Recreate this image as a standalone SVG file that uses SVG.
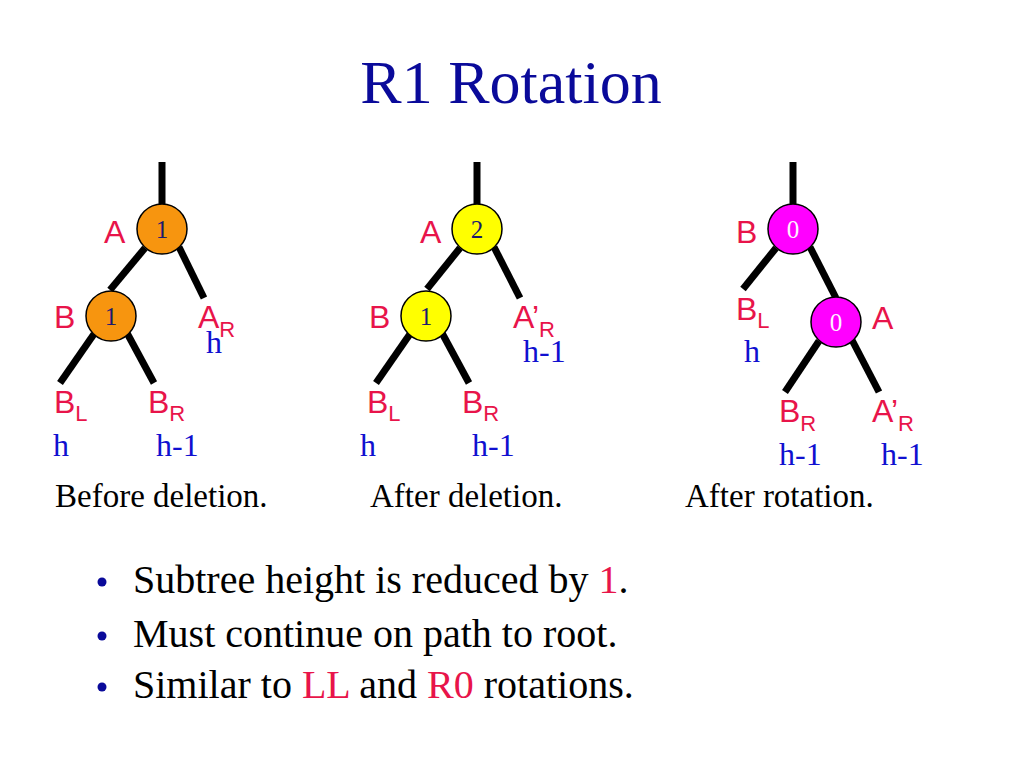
<svg xmlns="http://www.w3.org/2000/svg" width="1024" height="768" viewBox="0 0 1024 768">
<style>
.edge{stroke:#000;stroke-width:7;fill:none}
.nd{stroke:#000;stroke-width:1.5}
.or{fill:#f7950f}
.ye{fill:#ffff00}
.mg{fill:#ff00ff}
.num{font-family:"Liberation Serif",serif;font-size:25px;text-anchor:middle;fill:#1a1a6e}
.numw{font-family:"Liberation Serif",serif;font-size:25px;text-anchor:middle;fill:#fff0ff}
.lab{font-family:"Liberation Sans",Arial,sans-serif;font-size:32px;fill:#e8144a}
.sub{font-size:22px}
.ht{font-family:"Liberation Serif",serif;font-size:32px;fill:#1010d0}
.cap{font-family:"Liberation Serif",serif;font-size:33px;fill:#000}
.title{font-family:"Liberation Serif",serif;font-size:62px;fill:#0a0a9a;text-anchor:middle}
.bul{font-family:"Liberation Serif",serif;font-size:40px;fill:#000}
.red{fill:#e8144a}
</style>
<rect width="1024" height="768" fill="#fff"/>
<text class="title" x="511" y="103">R1 Rotation</text>

<g id="connectors">
<line class="edge" x1="162" y1="162" x2="162" y2="205"/>
<line class="edge" x1="145" y1="248" x2="110" y2="290"/>
<line class="edge" x1="179" y1="247" x2="204" y2="298"/>
<line class="edge" x1="94" y1="334" x2="60" y2="383"/>
<line class="edge" x1="127" y1="333" x2="154" y2="383"/>

<line class="edge" x1="477" y1="162" x2="477" y2="205"/>
<line class="edge" x1="460" y1="248" x2="427" y2="289"/>
<line class="edge" x1="494" y1="247" x2="520" y2="298"/>
<line class="edge" x1="410" y1="334" x2="376" y2="383"/>
<line class="edge" x1="442" y1="333" x2="469" y2="383"/>

<line class="edge" x1="793" y1="162" x2="793" y2="205"/>
<line class="edge" x1="776" y1="248" x2="743" y2="289"/>
<line class="edge" x1="810" y1="247" x2="836" y2="298"/>
<line class="edge" x1="819" y1="341" x2="785" y2="392"/>
<line class="edge" x1="852" y1="340" x2="879" y2="392"/>
</g>

<g id="t1-A"><circle class="nd or" cx="162" cy="229" r="25"/><text class="num" x="162" y="238">1</text><text class="lab" x="104" y="243">A</text></g>
<g id="t1-B"><circle class="nd or" cx="111" cy="316" r="25"/><text class="num" x="111" y="325">1</text><text class="lab" x="54" y="328">B</text></g>
<g id="t1-AR"><text class="lab" x="198" y="328">A<tspan class="sub" dy="9">R</tspan></text><text class="ht" x="206" y="353">h</text></g>
<g id="t1-BL"><text class="lab" x="54" y="413">B<tspan class="sub" dy="8">L</tspan></text><text class="ht" x="53" y="456">h</text></g>
<g id="t1-BR"><text class="lab" x="148" y="413">B<tspan class="sub" dy="8">R</tspan></text><text class="ht" x="156" y="456">h-1</text></g>
<text class="cap" x="55" y="507">Before deletion.</text>

<g id="t2-A"><circle class="nd ye" cx="477" cy="229" r="25"/><text class="num" x="477" y="238">2</text><text class="lab" x="420" y="243">A</text></g>
<g id="t2-B"><circle class="nd ye" cx="426" cy="316" r="25"/><text class="num" x="426" y="325">1</text><text class="lab" x="369" y="328">B</text></g>
<g id="t2-AR"><text class="lab" x="513" y="328">A’<tspan class="sub" dy="9">R</tspan></text><text class="ht" x="523" y="362">h-1</text></g>
<g id="t2-BL"><text class="lab" x="367" y="413">B<tspan class="sub" dy="8">L</tspan></text><text class="ht" x="360" y="456">h</text></g>
<g id="t2-BR"><text class="lab" x="462" y="413">B<tspan class="sub" dy="8">R</tspan></text><text class="ht" x="472" y="456">h-1</text></g>
<text class="cap" x="370" y="507">After deletion.</text>

<g id="t3-B"><circle class="nd mg" cx="793" cy="229" r="25"/><text class="numw" x="793" y="238">0</text><text class="lab" x="736" y="243">B</text></g>
<g id="t3-A"><circle class="nd mg" cx="836" cy="322" r="25"/><text class="numw" x="836" y="331">0</text><text class="lab" x="872" y="329">A</text></g>
<g id="t3-BL"><text class="lab" x="736" y="320">B<tspan class="sub" dy="8">L</tspan></text><text class="ht" x="744" y="362">h</text></g>
<g id="t3-BR"><text class="lab" x="779" y="422">B<tspan class="sub" dy="9">R</tspan></text><text class="ht" x="779" y="465">h-1</text></g>
<g id="t3-AR"><text class="lab" x="872" y="422">A’<tspan class="sub" dy="9">R</tspan></text><text class="ht" x="881" y="465">h-1</text></g>
<text class="cap" x="685" y="507">After rotation.</text>

<g id="bullets">
<circle cx="102" cy="582" r="4.5" fill="#0a0a9a"/>
<circle cx="102" cy="636" r="4.5" fill="#0a0a9a"/>
<circle cx="102" cy="687" r="4.5" fill="#0a0a9a"/>
<text class="bul" x="133" y="593">Subtree height is reduced by <tspan class="red">1</tspan>.</text>
<text class="bul" x="133" y="647">Must continue on path to root.</text>
<text class="bul" x="133" y="698">Similar to <tspan class="red">LL</tspan> and <tspan class="red">R0</tspan> rotations.</text>
</g>
</svg>
